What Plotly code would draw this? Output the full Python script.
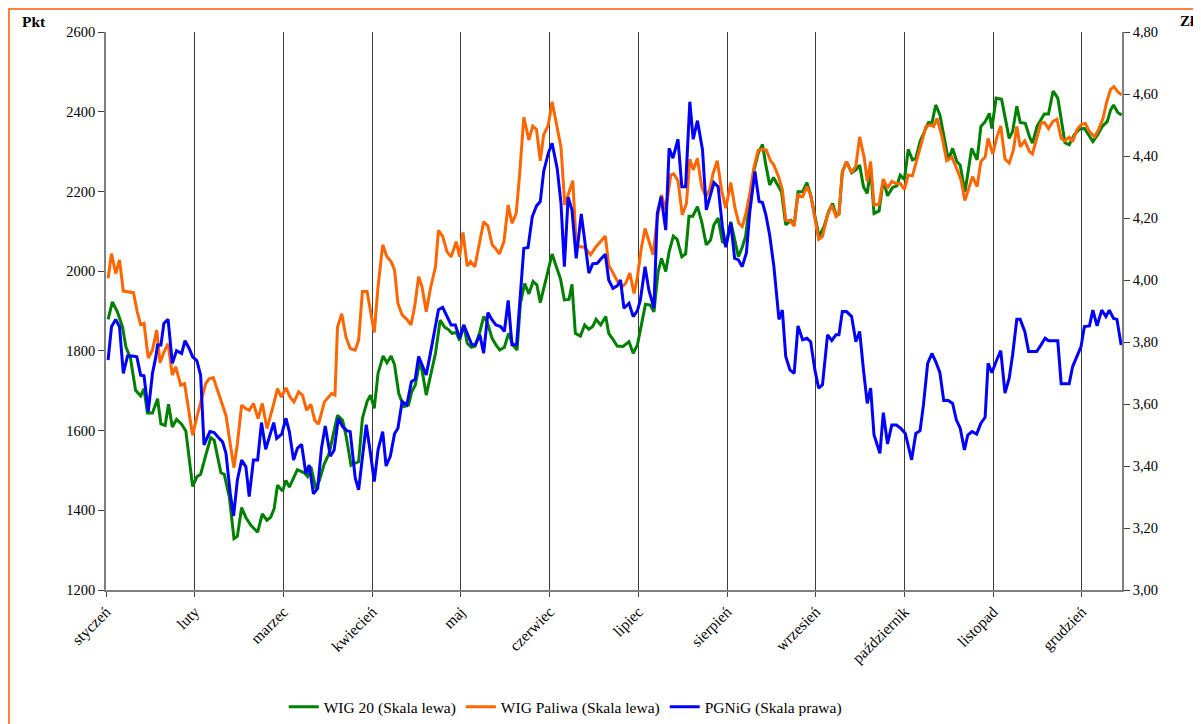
import plotly.graph_objects as go

month_names = ["styczeń", "luty", "marzec", "kwiecień", "maj", "czerwiec", "lipiec",
               "sierpień", "wrzesień", "październik", "listopad", "grudzień"]
month_start_day = [0, 21, 42, 63, 84, 105, 126, 147, 168, 189, 210, 231]

# ---------------- WIG 20 (left scale, points) ----------------
wig20_day = [0.5,1.5,2.7,3.9,4.7,5.8,7.0,8.2,9.0,9.8,11.0,12.2,13.0,14.0,14.8,15.7,16.7,17.9,18.9,19.7,
             20.5,21.5,22.4,23.6,24.8,25.6,27.2,28.0,29.2,30.3,31.1,32.1,33.1,34.3,35.9,37.0,38.1,39.0,39.8,40.6,
             41.8,42.6,43.4,45.3,46.9,47.7,48.5,49.7,50.5,51.7,52.8,54.8,56.0,56.8,58.0,
             59.0,59.8,60.7,61.8,62.6,63.5,64.4,65.6,66.5,67.5,68.3,69.3,70.5,71.6,72.4,73.2,74.2,74.8,75.8,77.0,
             78.0,79.1,80.2,81.0,81.9,82.9,83.7,84.7,85.5,86.5,87.4,88.5,89.4,90.2,91.4,92.2,93.2,94.3,95.3,96.3,
             97.3,98.1,99.1,100.1,101.1,102.0,102.8,104.2,105.6,106.6,107.6,108.5,109.6,110.3,111.1,112.3,113.3,114.3,115.2,116.0,
             117.1,
             118.3,119.0,120.0,121.0,122.4,123.8,124.8,125.8,126.8,127.7,128.8,129.7,130.7,131.5,132.5,133.3,134.3,135.2,136.3,137.2,
             138.0,138.9,140.0,141.0,142.1,143.1,143.9,144.9,145.9,146.8,147.9,148.7,149.7,150.6,151.4,152.4,153.4,154.4,155.4,156.2,
             157.1,158.0,158.9,159.9,160.9,162.1,162.9,163.8,164.9,165.9,166.8,167.9,168.8,170.0,171.0,172.0,172.8,173.5,174.3,175.3,
             176.5,177.5,178.4,
             179.3,180.2,181.0,181.8,183.0,184.0,185.0,186.2,187.2,188.0,189.0,189.9,190.9,191.7,192.7,193.7,194.7,195.5,196.4,197.4,
             198.3,199.4,200.4,201.4,202.2,203.3,203.9,204.9,206.2,207.1,208.1,209.1,209.7,210.7,212.0,212.8,213.8,214.6,215.6,216.4,
             217.6,218.6,219.3,220.4,221.3,222.1,223.1,224.2,225.3,226.1,227.0,228.0,229.2,230.4,231.6,232.6,233.6,234.7,235.9,237.0,
             237.8,238.5,239.5,240.4]
wig20_val = [1879,1923,1898,1860,1810,1781,1701,1687,1705,1644,1644,1680,1617,1613,1666,1609,1628,1616,1599,1534,
             1460,1484,1490,1538,1582,1576,1494,1490,1433,1329,1335,1407,1382,1362,1345,1391,1375,1383,1404,1463,
             1448,1475,1458,1502,1494,1485,1509,1454,1475,1517,1542,1638,1626,1588,1513,
             1518,1522,1631,1673,1689,1656,1744,1787,1770,1787,1765,1693,1660,1664,1698,1714,1769,1752,1689,1744,
             1794,1877,1859,1854,1844,1846,1826,1865,1819,1809,1812,1848,1886,1873,1831,1817,1802,1809,1844,1815,
             1802,1919,1969,1943,1974,1965,1921,1982,2043,2011,1980,1928,1929,1967,1844,1837,1865,1854,1861,1879,
             1865,
             1886,1844,1829,1812,1811,1823,1794,1815,1869,1917,1915,1898,1999,2032,1999,2049,2088,2080,2036,2043,
             2138,2138,2162,2124,2066,2078,2116,2133,2074,2068,2124,2087,2036,2060,2087,2179,2254,2296,2318,2266,
             2216,2235,2216,2199,2116,2127,2116,2199,2199,2222,2191,2137,2087,2112,2149,2170,2141,2143,2250,2275,
             2247,2254,2266,
             2212,2195,2258,2145,2151,2229,2189,2210,2214,2241,2230,2306,2279,2283,2325,2350,2373,2371,2417,2392,
             2337,2279,2308,2275,2266,2199,2237,2308,2279,2363,2375,2396,2358,2434,2431,2388,2333,2350,2414,2373,
             2371,2337,2321,2363,2381,2394,2394,2452,2434,2379,2322,2317,2342,2356,2358,2342,2325,2342,2364,2375,
             2404,2417,2398,2392]

# ---------------- WIG Paliwa (left scale, points) ----------------
paliwa_day = [0.5,1.3,2.3,3.2,4.1,5.1,6.5,7.4,8.2,9.0,10.0,11.0,12.0,12.8,13.7,14.7,15.7,16.5,17.7,18.6,
              19.7,20.5,21.5,22.4,23.6,24.4,25.4,26.4,27.6,28.4,29.4,30.3,31.1,32.1,33.1,33.9,34.9,36.0,37.0,38.1,
              39.4,40.6,41.5,42.6,43.6,44.5,45.6,46.5,47.5,48.5,49.4,50.3,51.7,52.6,53.4,54.2,54.8,55.8,56.8,57.8,
              59.0,59.8,60.7,61.8,62.6,63.5,64.4,65.5,66.5,67.5,68.3,69.1,70.1,71.2,72.2,73.1,74.0,74.8,75.8,76.8,
              78.0,78.7,79.7,80.7,81.7,82.9,83.7,84.5,85.5,86.3,87.3,88.4,89.4,90.4,91.4,92.2,93.1,94.2,95.2,96.1,
              97.1,97.9,98.9,100.1,101.0,101.9,102.8,103.6,104.7,105.6,106.6,107.7,108.6,109.6,110.5,111.3,112.3,113.3,114.7,115.9,
              117.1,118.2,
              119.0,120.0,121.0,122.2,123.0,124.0,125.0,125.8,126.7,127.6,128.5,129.5,130.5,131.5,132.5,133.7,134.4,135.4,136.4,137.4,
              138.2,139.0,140.0,141.0,142.0,142.9,143.7,144.7,145.7,146.7,147.9,148.9,149.8,150.6,151.4,152.4,153.4,154.4,155.4,156.3,
              157.3,158.1,159.2,160.1,160.9,161.9,162.9,163.8,164.9,165.9,166.8,167.9,168.7,169.6,170.8,171.8,172.8,173.5,174.3,175.3,
              176.5,177.5,178.4,
              179.5,180.2,181.0,181.8,183.0,184.0,185.0,186.0,187.0,188.0,189.0,189.9,190.9,191.9,192.9,194.1,195.3,195.9,196.7,197.8,
              199.0,200.2,201.2,202.4,203.3,204.1,205.1,206.2,207.1,208.1,208.8,209.9,210.9,211.8,212.8,213.8,214.8,215.6,216.4,217.5,
              218.6,219.3,220.4,221.3,222.1,223.1,224.1,225.1,226.1,227.0,228.0,228.8,229.9,230.8,231.8,232.8,234.0,234.9,236.0,236.9,
              237.8,238.6,239.5,240.4]
paliwa_val = [1982,2044,1994,2028,1950,1948,1946,1898,1866,1869,1782,1802,1852,1770,1797,1818,1739,1760,1714,1718,
              1638,1588,1634,1668,1718,1730,1733,1701,1664,1638,1567,1507,1567,1664,1655,1651,1668,1630,1668,1605,
              1655,1705,1684,1707,1684,1672,1697,1689,1651,1666,1626,1616,1672,1684,1693,1689,1860,1893,1835,1806,
              1802,1827,1949,1949,1903,1846,1961,2066,2036,2024,2003,1919,1890,1879,1865,1913,1986,1961,1898,1957,
              2011,2102,2087,2049,2036,2074,2036,2097,2013,2024,2011,2074,2124,2113,2066,2057,2043,2074,2166,2120,
              2145,2241,2386,2329,2364,2356,2277,2342,2367,2425,2367,2311,2166,2199,2227,2066,2061,2060,2041,2060,
              2074,2088,
              2015,1995,1976,1961,1969,1995,1944,1986,2057,2107,2078,2041,2133,2191,2153,2241,2244,2227,2141,2170,
              2281,2254,2283,2212,2187,2204,2245,2277,2204,2158,2222,2158,2120,2112,2141,2195,2262,2304,2306,2304,
              2277,2266,2237,2204,2128,2127,2113,2191,2187,2212,2191,2128,2080,2087,2141,2166,2137,2143,2247,2275,
              2247,2264,2337,
              2283,2225,2275,2166,2168,2231,2208,2225,2220,2220,2205,2241,2239,2279,2321,2363,2367,2363,2383,2342,
              2277,2286,2262,2229,2177,2204,2237,2212,2275,2286,2333,2294,2337,2364,2281,2271,2304,2363,2312,2327,
              2300,2294,2333,2371,2373,2358,2375,2381,2333,2327,2336,2325,2356,2367,2371,2350,2337,2354,2383,2425,
              2456,2463,2450,2442]

# ---------------- PGNiG (right scale, zł) ----------------
pgnig_day = [0.5,1.3,2.3,3.2,4.1,5.1,6.2,7.3,8.2,9.0,10.0,11.0,11.8,12.2,13.0,13.7,14.7,15.7,16.7,17.9,
             18.7,19.7,20.5,21.5,22.4,23.2,24.6,25.6,26.8,27.6,28.4,29.4,30.2,31.1,32.1,33.1,33.9,34.9,35.9,36.8,
             37.8,38.9,39.7,40.4,41.6,42.6,43.4,44.4,45.3,46.3,47.3,48.1,49.1,50.1,51.0,51.9,53.1,54.0,55.0,56.0,
             57.0,57.8,
             59.0,59.8,60.7,61.6,62.6,63.5,64.4,65.5,66.3,67.3,68.3,69.1,70.1,71.2,72.3,73.2,74.0,74.8,75.8,76.8,
             78.0,78.7,79.7,80.7,81.7,82.7,83.7,84.7,85.7,86.6,87.4,88.5,89.4,90.4,91.4,92.3,93.4,94.3,95.2,96.1,
             97.2,98.1,98.9,99.9,100.9,101.9,102.8,103.6,104.7,105.6,106.8,107.7,108.5,109.4,110.3,111.3,112.5,113.3,114.3,115.2,
             116.3,117.3,118.2,
             119.0,120.0,121.0,121.8,122.6,123.8,124.8,125.8,126.5,127.6,128.5,129.7,130.5,131.4,132.5,133.3,134.2,135.4,136.3,137.2,
             138.2,139.0,140.0,141.2,142.1,143.1,143.9,144.9,145.9,146.7,147.9,148.8,149.7,150.6,151.6,152.4,153.6,154.6,155.4,156.2,
             157.1,158.1,159.3,160.1,160.9,161.9,162.9,163.8,164.9,165.9,166.8,167.8,168.7,169.6,170.8,171.8,172.8,173.5,174.3,175.3,
             176.5,177.5,178.4,
             179.3,180.2,181.0,181.8,183.2,184.0,185.0,186.0,187.1,188.1,189.2,189.9,190.7,191.7,192.7,193.5,194.5,195.5,196.4,197.4,
             198.3,199.4,200.4,201.3,202.2,203.2,204.0,205.0,206.1,207.1,208.1,208.8,209.7,210.7,211.8,212.8,213.8,214.6,215.6,216.4,
             217.5,218.4,219.3,220.3,221.3,222.3,223.1,224.1,225.3,226.1,227.0,228.0,228.8,229.9,230.8,231.6,232.8,233.6,234.6,235.7,
             236.7,237.5,238.5,239.3,240.3]
pgnig_val = [3.742,3.849,3.873,3.849,3.699,3.755,3.755,3.752,3.693,3.691,3.575,3.699,3.752,3.790,3.790,3.860,3.873,3.731,3.772,3.763,
             3.804,3.779,3.752,3.740,3.693,3.468,3.511,3.508,3.489,3.478,3.441,3.312,3.239,3.355,3.419,3.398,3.301,3.419,3.419,3.540,
             3.454,3.505,3.540,3.489,3.503,3.554,3.511,3.419,3.457,3.470,3.376,3.403,3.310,3.328,3.457,3.529,3.432,3.451,3.554,3.527,
             3.514,3.511,
             3.361,3.323,3.431,3.533,3.441,3.350,3.452,3.511,3.400,3.431,3.504,3.522,3.608,3.597,3.672,3.680,3.753,3.729,3.694,3.764,
             3.855,3.904,3.912,3.882,3.855,3.855,3.812,3.855,3.820,3.791,3.791,3.823,3.764,3.895,3.871,3.855,3.850,3.834,3.934,3.791,
             3.791,3.957,4.102,4.105,4.204,4.239,4.253,4.350,4.409,4.441,4.360,4.248,4.043,4.267,4.226,4.070,4.213,4.129,4.022,4.052,
             4.054,4.070,4.083,
             4.000,3.973,3.981,4.000,3.909,3.925,3.882,3.901,3.936,4.043,3.968,3.909,4.215,4.269,4.161,4.425,4.393,4.454,4.301,4.301,
             4.575,4.454,4.514,4.420,4.226,4.274,4.314,4.301,4.172,4.106,4.185,4.070,4.065,4.043,4.088,4.221,4.350,4.253,4.250,4.210,
             4.145,4.043,3.873,3.903,3.753,3.710,3.699,3.852,3.807,3.812,3.801,3.710,3.651,3.662,3.823,3.805,3.823,3.823,3.898,3.898,
             3.882,3.801,3.834,
             3.710,3.602,3.651,3.500,3.441,3.572,3.471,3.532,3.532,3.522,3.505,3.463,3.420,3.505,3.514,3.597,3.731,3.763,3.737,3.701,
             3.611,3.611,3.602,3.548,3.522,3.452,3.500,3.511,3.503,3.538,3.557,3.731,3.701,3.737,3.772,3.635,3.683,3.758,3.873,3.873,
             3.833,3.769,3.769,3.769,3.790,3.812,3.804,3.804,3.804,3.665,3.665,3.665,3.720,3.753,3.785,3.850,3.852,3.903,3.852,3.903,
             3.882,3.903,3.876,3.873,3.790]

assert len(wig20_day) == len(wig20_val)
assert len(paliwa_day) == len(paliwa_val)
assert len(pgnig_day) == len(pgnig_val)

FONT = "Liberation Serif, Times New Roman, serif"

fig = go.Figure()
fig.add_trace(go.Scatter(x=wig20_day, y=wig20_val, mode="lines", name="WIG 20 (Skala lewa)",
                         line=dict(color="#008000", width=3)))
fig.add_trace(go.Scatter(x=paliwa_day, y=paliwa_val, mode="lines", name="WIG Paliwa (Skala lewa)",
                         line=dict(color="#FF6600", width=3)))
fig.add_trace(go.Scatter(x=pgnig_day, y=pgnig_val, mode="lines", name="PGNiG (Skala prawa)",
                         line=dict(color="#0000FF", width=3), yaxis="y2"))

fig.update_layout(
    width=1193, height=716,
    margin=dict(l=98, r=79, t=24, b=134, autoexpand=False),
    paper_bgcolor="white", plot_bgcolor="white",
    font=dict(family=FONT, size=14.5, color="black"),
    separators=", ",
    showlegend=True,
    legend=dict(orientation="h", x=0.452, xanchor="center", y=-0.21, yanchor="middle",
                font=dict(family=FONT, size=15.5), bgcolor="rgba(0,0,0,0)"),
    xaxis=dict(range=[0, 240.5], tickmode="array", tickvals=month_start_day, ticktext=month_names,
               tickangle=-45, tickfont=dict(size=15.5), automargin=False,
               showgrid=True, gridcolor="#3a3a3a", gridwidth=1,
               showline=True, linecolor="#808080", linewidth=1.5,
               ticks="outside", ticklen=5, tickcolor="#404040", zeroline=False),
    yaxis=dict(range=[1200, 2600], dtick=200, showgrid=False, zeroline=False, automargin=False,
               showline=True, linecolor="#808080", linewidth=1.5,
               ticks="outside", ticklen=6, tickcolor="#404040"),
    yaxis2=dict(range=[3.0, 4.8], dtick=0.2, tickformat=".2f", overlaying="y", side="right",
                automargin=False, showgrid=False, zeroline=False,
                showline=True, linecolor="#808080", linewidth=1.5,
                ticks="outside", ticklen=6, tickcolor="#404040"),
    shapes=[dict(type="rect", xref="paper", yref="paper",
                 x0=-0.0955, x1=1.083, y0=-0.35, y1=1.041,
                 line=dict(color="#FF8040", width=2), fillcolor="rgba(0,0,0,0)", layer="below")],
    annotations=[
        dict(text="<b>Pkt</b>", xref="paper", yref="paper", x=-0.0846, xanchor="left",
             y=1.0197, yanchor="middle", showarrow=False, font=dict(family=FONT, size=15.5)),
        dict(text="<b>Zł</b>", xref="paper", yref="paper", x=1.055, xanchor="left",
             y=1.0197, yanchor="middle", showarrow=False, font=dict(family=FONT, size=15)),
    ],
)

fig.write_html("out.html")
